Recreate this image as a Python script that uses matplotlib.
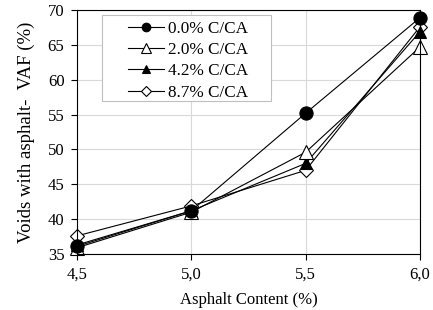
import matplotlib
matplotlib.use("Agg")
import matplotlib.pyplot as plt
from matplotlib.patches import Rectangle

# Asfalt içeriği (%) ve VAF değerleri (%)
asphalt = [4.5, 5.0, 5.5, 6.0]
vaf_00 = [36.1, 41.2, 55.2, 68.9]
vaf_20 = [35.9, 41.0, 49.6, 64.7]
vaf_42 = [36.3, 41.2, 48.0, 66.9]
vaf_87 = [37.6, 41.9, 47.0, 67.6]
labels = ["0.0% C/CA", "2.0% C/CA", "4.2% C/CA", "8.7% C/CA"]
x_ticks = [4.5, 5.0, 5.5, 6.0]
x_ticklabels = ["4,5", "5,0", "5,5", "6,0"]
y_ticks = [35, 40, 45, 50, 55, 60, 65, 70]

plt.rcParams["font.family"] = ["Liberation Serif", "DejaVu Serif"]
plt.rcParams["font.size"] = 12

fig = plt.figure(figsize=(4.33, 3.10), dpi=100)
ax = fig.add_axes([77 / 433, 1 - 254 / 310, 343 / 433, 244 / 310])

series = [
    (vaf_87, dict(marker="D", mfc="white", ms=7.5)),
    (vaf_42, dict(marker="^", mfc="black", ms=9)),
    (vaf_20, dict(marker="^", mfc="white", ms=10)),
    (vaf_00, dict(marker="o", mfc="black", ms=9.5)),
]
handles = {}
for (vals, st), lab in zip(series, labels[::-1]):
    h, = ax.plot(asphalt, vals, color="black", lw=0.8, mec="black",
                 mew=0.8, clip_on=False, **st)
    handles[lab] = h

ax.set_xlim(4.5, 6.0)
ax.set_ylim(35, 70)
ax.set_xticks(x_ticks)
ax.set_xticklabels(x_ticklabels)
ax.set_yticks(y_ticks)
ax.grid(True, color="#d9d9d9", lw=0.8)
ax.set_axisbelow(True)
ax.tick_params(direction="out", length=4, width=0.8, pad=5)
for s in ax.spines.values():
    s.set_linewidth(0.8)

ax.set_xlabel("Asphalt Content (%)", labelpad=7)
ax.set_ylabel("Voids with asphalt-  VAF (%)", labelpad=9, fontsize=13.5)

# Lejant çerçevesi elle: yatayda geniş, dikeyde dar boşluk
ax.add_patch(Rectangle((0.073, 0.627), 0.493, 0.353, transform=ax.transAxes,
                       fc="white", ec="#bfbfbf", lw=0.8, zorder=4))
leg = ax.legend([handles[l] for l in labels], labels,
                loc="upper left", bbox_to_anchor=(0.113, 1.003),
                frameon=False, handlelength=2.1, handletextpad=0.25,
                borderpad=0.2, labelspacing=0.3, markerscale=0.65,
                fontsize=12.3)
leg.set_zorder(5)

fig.savefig("out.png", dpi=100)
